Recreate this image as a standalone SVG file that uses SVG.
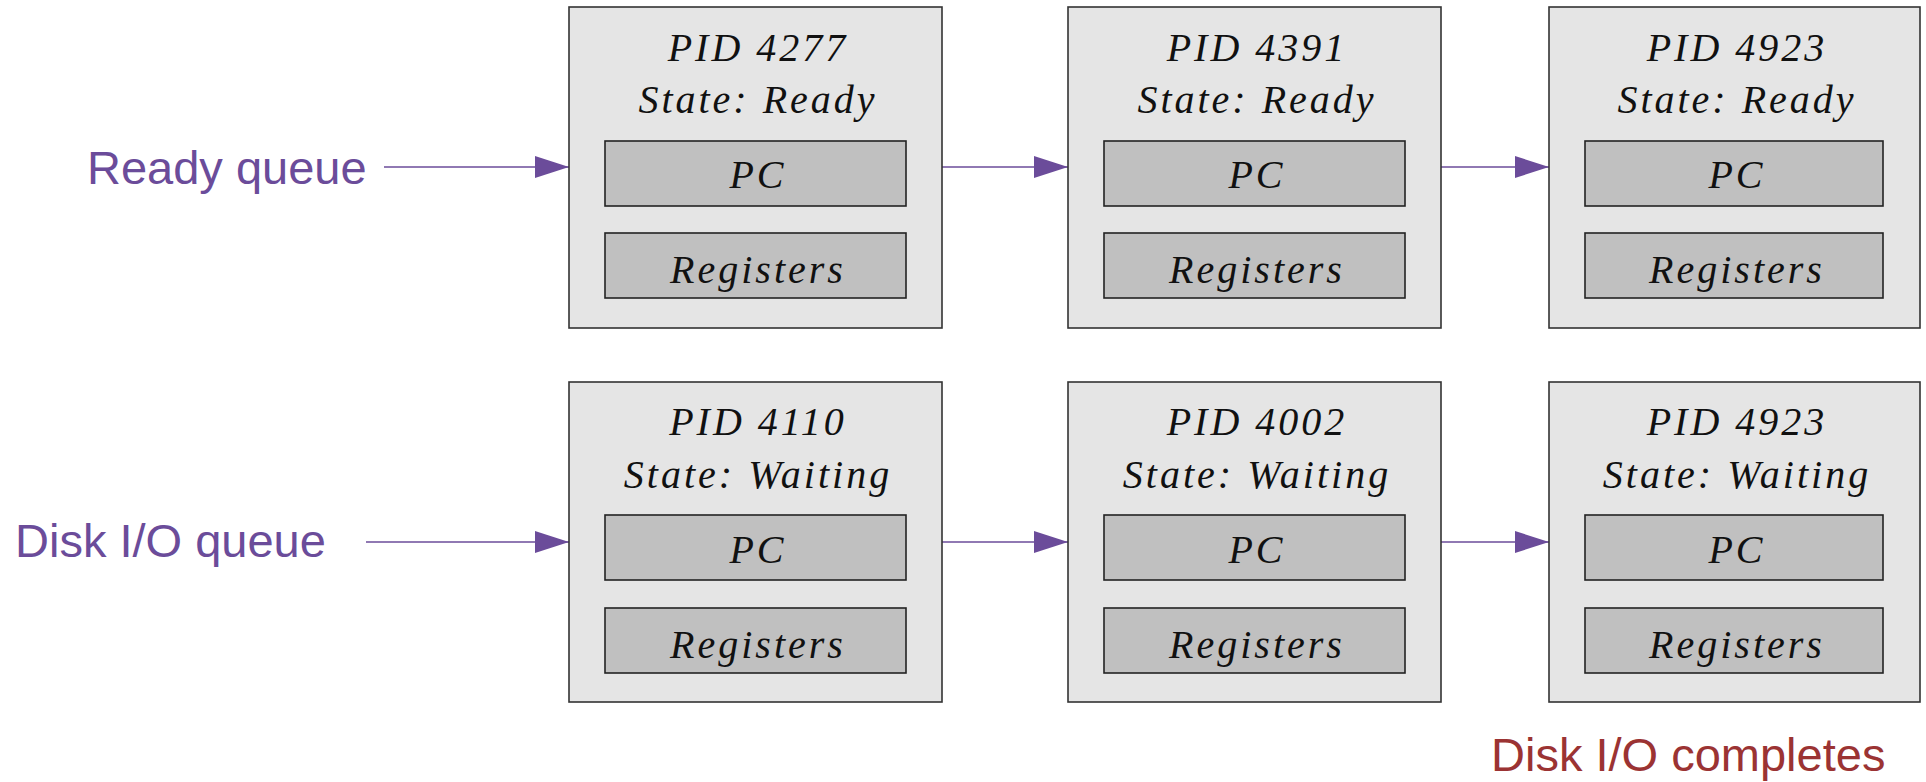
<svg xmlns="http://www.w3.org/2000/svg" width="1926" height="782" viewBox="0 0 1926 782">
  <defs>
    <style>
      .pcb { fill: #e5e5e5; stroke: #333333; stroke-width: 1.6; }
      .field { fill: #c0c0c0; stroke: #222222; stroke-width: 1.6; }
      .hand { font-family: "Liberation Serif", "DejaVu Serif", serif; font-style: italic; font-size: 40px; letter-spacing: 3px; fill: #111111; text-anchor: middle; }
      .qlabel { font-family: "Liberation Sans", Arial, sans-serif; font-size: 47px; fill: #6b4c9a; }
      .done { font-family: "Liberation Sans", Arial, sans-serif; font-size: 47px; fill: #9b3333; }
      .link { stroke: #6b4c9a; stroke-width: 1.4; fill: none; marker-end: url(#head); }
    </style>
    <marker id="head" markerUnits="userSpaceOnUse" markerWidth="34" markerHeight="22" refX="34" refY="11" orient="auto">
      <path d="M0,0 L34,11 L0,22 Z" fill="#6b4c9a"/>
    </marker>
  </defs>

  <rect width="1926" height="782" fill="#ffffff"/>

  <!-- queue labels -->
  <g id="label-ready">
    <text class="qlabel" x="87" y="184">Ready queue</text>
  </g>
  <g id="label-disk">
    <text class="qlabel" x="15" y="557">Disk I/O queue</text>
  </g>
  <g id="label-complete">
    <text class="done" x="1491" y="771">Disk I/O completes</text>
  </g>

  <!-- connectors -->
  <g id="connectors">
    <line class="link" x1="384" y1="167" x2="569" y2="167"/>
    <line class="link" x1="942" y1="167" x2="1068" y2="167"/>
    <line class="link" x1="1441" y1="167" x2="1549" y2="167"/>
    <line class="link" x1="366" y1="542" x2="569" y2="542"/>
    <line class="link" x1="942" y1="542" x2="1068" y2="542"/>
    <line class="link" x1="1441" y1="542" x2="1549" y2="542"/>
  </g>

  <!-- ready queue PCBs -->
  <g id="pcb-4277">
    <rect class="pcb" x="569" y="7" width="373" height="321"/>
    <text class="hand" x="758" y="61">PID 4277</text>
    <text class="hand" x="758" y="113">State: Ready</text>
    <rect class="field" x="605" y="141" width="301" height="65"/>
    <text class="hand" x="758" y="188">PC</text>
    <rect class="field" x="605" y="233" width="301" height="65"/>
    <text class="hand" x="758" y="283">Registers</text>
  </g>
  <g id="pcb-4391">
    <rect class="pcb" x="1068" y="7" width="373" height="321"/>
    <text class="hand" x="1257" y="61">PID 4391</text>
    <text class="hand" x="1257" y="113">State: Ready</text>
    <rect class="field" x="1104" y="141" width="301" height="65"/>
    <text class="hand" x="1257" y="188">PC</text>
    <rect class="field" x="1104" y="233" width="301" height="65"/>
    <text class="hand" x="1257" y="283">Registers</text>
  </g>
  <g id="pcb-4923-ready">
    <rect class="pcb" x="1549" y="7" width="371" height="321"/>
    <text class="hand" x="1737" y="61">PID 4923</text>
    <text class="hand" x="1737" y="113">State: Ready</text>
    <rect class="field" x="1585" y="141" width="298" height="65"/>
    <text class="hand" x="1737" y="188">PC</text>
    <rect class="field" x="1585" y="233" width="298" height="65"/>
    <text class="hand" x="1737" y="283">Registers</text>
  </g>

  <!-- disk I/O queue PCBs -->
  <g id="pcb-4110">
    <rect class="pcb" x="569" y="382" width="373" height="320"/>
    <text class="hand" x="758" y="435">PID 4110</text>
    <text class="hand" x="758" y="488">State: Waiting</text>
    <rect class="field" x="605" y="515" width="301" height="65"/>
    <text class="hand" x="758" y="563">PC</text>
    <rect class="field" x="605" y="608" width="301" height="65"/>
    <text class="hand" x="758" y="658">Registers</text>
  </g>
  <g id="pcb-4002">
    <rect class="pcb" x="1068" y="382" width="373" height="320"/>
    <text class="hand" x="1257" y="435">PID 4002</text>
    <text class="hand" x="1257" y="488">State: Waiting</text>
    <rect class="field" x="1104" y="515" width="301" height="65"/>
    <text class="hand" x="1257" y="563">PC</text>
    <rect class="field" x="1104" y="608" width="301" height="65"/>
    <text class="hand" x="1257" y="658">Registers</text>
  </g>
  <g id="pcb-4923-waiting">
    <rect class="pcb" x="1549" y="382" width="371" height="320"/>
    <text class="hand" x="1737" y="435">PID 4923</text>
    <text class="hand" x="1737" y="488">State: Waiting</text>
    <rect class="field" x="1585" y="515" width="298" height="65"/>
    <text class="hand" x="1737" y="563">PC</text>
    <rect class="field" x="1585" y="608" width="298" height="65"/>
    <text class="hand" x="1737" y="658">Registers</text>
  </g>
</svg>
